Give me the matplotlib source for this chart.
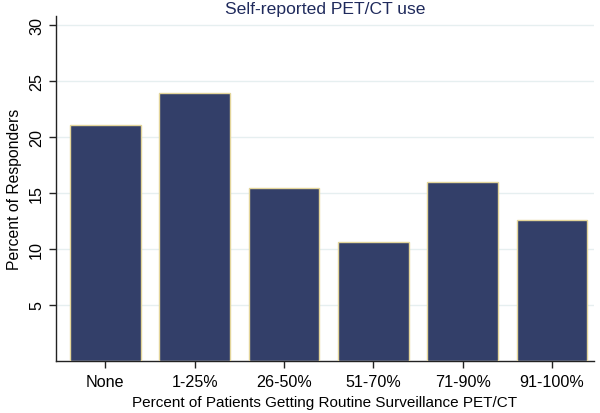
import matplotlib
matplotlib.use("Agg")
from matplotlib import pyplot as plt
import numpy as np

categories = ["None", "1-25%", "26-50%", "51-70%", "71-90%", "91-100%"]
percent_responders = [21.05, 23.95, 15.4, 10.6, 16.0, 12.6]
y_ticks = [5, 10, 15, 20, 25, 30]

plt.rcParams["font.family"] = ["Liberation Sans", "DejaVu Sans"]

fig = plt.figure(figsize=(6.0, 4.14), dpi=100)
ax = fig.add_axes([0.093, 0.1256, 0.897, 0.8334])

x = np.arange(len(categories))
ax.bar(x, percent_responders, width=0.79, color="#333f69",
       edgecolor="#e3d59a", linewidth=1.0, zorder=3)

ax.set_xlim(-0.554, 5.47)
ax.set_ylim(0, 30.8)
ax.set_xticks(x)
ax.set_xticklabels(categories, fontsize=11.6)
ax.set_yticks(y_ticks)
ax.set_yticklabels([str(t) for t in y_ticks], fontsize=11.6, rotation=90, va="center")
ax.grid(axis="y", color="#e6eff0", linewidth=1.0, zorder=0)

for side in ["top", "right"]:
    ax.spines[side].set_visible(False)
for side in ["left", "bottom"]:
    ax.spines[side].set_color("#222222")
    ax.spines[side].set_linewidth(1.0)
ax.tick_params(axis="both", direction="out", length=5, color="#222222", width=1.0)
ax.tick_params(axis="x", pad=4)

ax.set_xlabel("Percent of Patients Getting Routine Surveillance PET/CT", fontsize=11, labelpad=5)
ax.set_ylabel("Percent of Responders", fontsize=11.3, labelpad=5)
ax.set_title("Self-reported PET/CT use", fontsize=12.6, color="#1f2a5c", pad=2, y=1.0)

fig.savefig("out.png", dpi=100)
